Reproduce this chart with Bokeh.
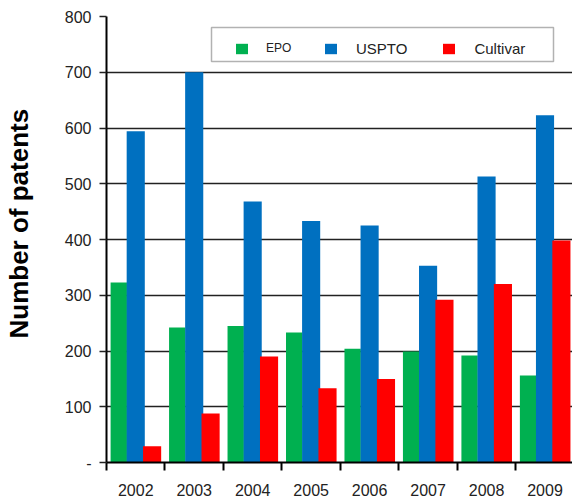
from bokeh.plotting import figure
from bokeh.models import ColumnDataSource, FixedTicker, Legend, LegendItem, BoxAnnotation, Title
from bokeh.transform import dodge
from bokeh.embed import file_html
from bokeh.resources import INLINE

years = ["2002", "2003", "2004", "2005", "2006", "2007", "2008", "2009"]
epo = [323, 242, 245, 233, 204, 199, 192, 156]
uspto = [594, 700, 468, 433, 425, 353, 513, 623]
cultivar = [29, 88, 190, 133, 150, 292, 320, 398]
series_names = ["EPO", "USPTO", "Cultivar"]
colors = ["#00B050", "#0070C0", "#FF0000"]
y_ticks = [0, 100, 200, 300, 400, 500, 600, 700, 800]

pos = [i for i in range(len(years))]
src = ColumnDataSource(dict(pos=pos, EPO=epo, USPTO=uspto, Cultivar=cultivar))

p = figure(width=572, height=500, x_range=(0, 7.97), y_range=(0, 800),
           output_backend="svg", toolbar_location=None,
           min_border_left=105, min_border_right=0, min_border_top=16, min_border_bottom=38)
p.outline_line_color = None
p.background_fill_color = "white"

offsets = [0.21, 0.50, 0.78]
widths = [0.28, 0.31, 0.31]
renderers = []
for name, col, off, w in zip(series_names, colors, offsets, widths):
    r = p.vbar(x=dodge("pos", off), top=name, width=w, source=src,
               fill_color=col, line_color=None)
    renderers.append(r)

# legend frame
box = BoxAnnotation(left=105, right=447, top=435, bottom=401,
                    left_units="screen", right_units="screen",
                    top_units="screen", bottom_units="screen",
                    fill_color="white", fill_alpha=1,
                    line_color="black", line_width=1.5)
p.add_layout(box)

def make_legend(items, loc, font_size, standoff):
    lg = Legend(items=items, orientation="horizontal", location=loc)
    lg.border_line_color = None
    lg.background_fill_alpha = 0
    lg.label_text_font = "Liberation Sans"
    lg.label_text_font_size = font_size
    lg.label_text_color = "#222222"
    lg.glyph_width = 15
    lg.glyph_height = 13
    lg.label_standoff = standoff
    lg.spacing = 34
    lg.padding = 0
    lg.margin = 0
    lg.label_height = 20
    return lg

leg_a = make_legend([LegendItem(label=series_names[0], renderers=[renderers[0]])],
                    (128, 404), "12px", 17)
leg_b = make_legend([LegendItem(label=n, renderers=[r]) for n, r in zip(series_names[1:], renderers[1:])],
                    (217, 404), "15px", 18)
p.add_layout(leg_a, "center")
p.add_layout(leg_b, "center")

# x axis: labels at centers, tick marks at boundaries
p.xaxis.ticker = FixedTicker(ticks=[i + 0.5 for i in pos], minor_ticks=[i for i in pos])
p.xaxis.major_label_overrides = {i + 0.5: y for i, y in zip(pos, years)}
p.xaxis.major_tick_line_color = None
p.xaxis.major_tick_out = 0
p.xaxis.major_tick_in = 0
p.xaxis.minor_tick_line_color = "black"
p.xaxis.minor_tick_line_width = 2
p.xaxis.minor_tick_out = 8
p.xaxis.minor_tick_in = 0
p.xaxis.axis_line_color = "black"
p.xaxis.axis_line_width = 2
p.xaxis.major_label_text_font = "Liberation Sans"
p.xaxis.major_label_text_font_size = "16px"
p.xaxis.major_label_text_color = "#222222"
p.xaxis.major_label_standoff = 13

p.yaxis.ticker = FixedTicker(ticks=y_ticks, minor_ticks=[])
p.yaxis.major_label_overrides = {0: "-"}
p.yaxis.axis_line_color = "black"
p.yaxis.axis_line_width = 2
p.yaxis.major_tick_line_color = "#222222"
p.yaxis.major_tick_line_width = 1.5
p.yaxis.major_tick_out = 7
p.yaxis.major_tick_in = 0
p.yaxis.major_label_text_font = "Liberation Sans"
p.yaxis.major_label_text_font_size = "16px"
p.yaxis.major_label_text_color = "#222222"
p.yaxis.major_label_standoff = 8
# blank spacer label widens the axis panel so the title sits further left
p.yaxis.axis_label = " "
p.yaxis.axis_label_text_font_size = "1px"
p.yaxis.axis_label_standoff = 23

# y axis title
ytitle = Title(text="Number of patents", align="left", offset=124, standoff=2,
               text_font="Liberation Sans", text_font_style="bold", text_font_size="26px",
               text_color="black")
p.add_layout(ytitle, "left")

p.xgrid.grid_line_color = None
p.ygrid.grid_line_color = "#222222"
p.ygrid.grid_line_width = 1.5

open("out.html", "w").write(file_html(p, INLINE))
